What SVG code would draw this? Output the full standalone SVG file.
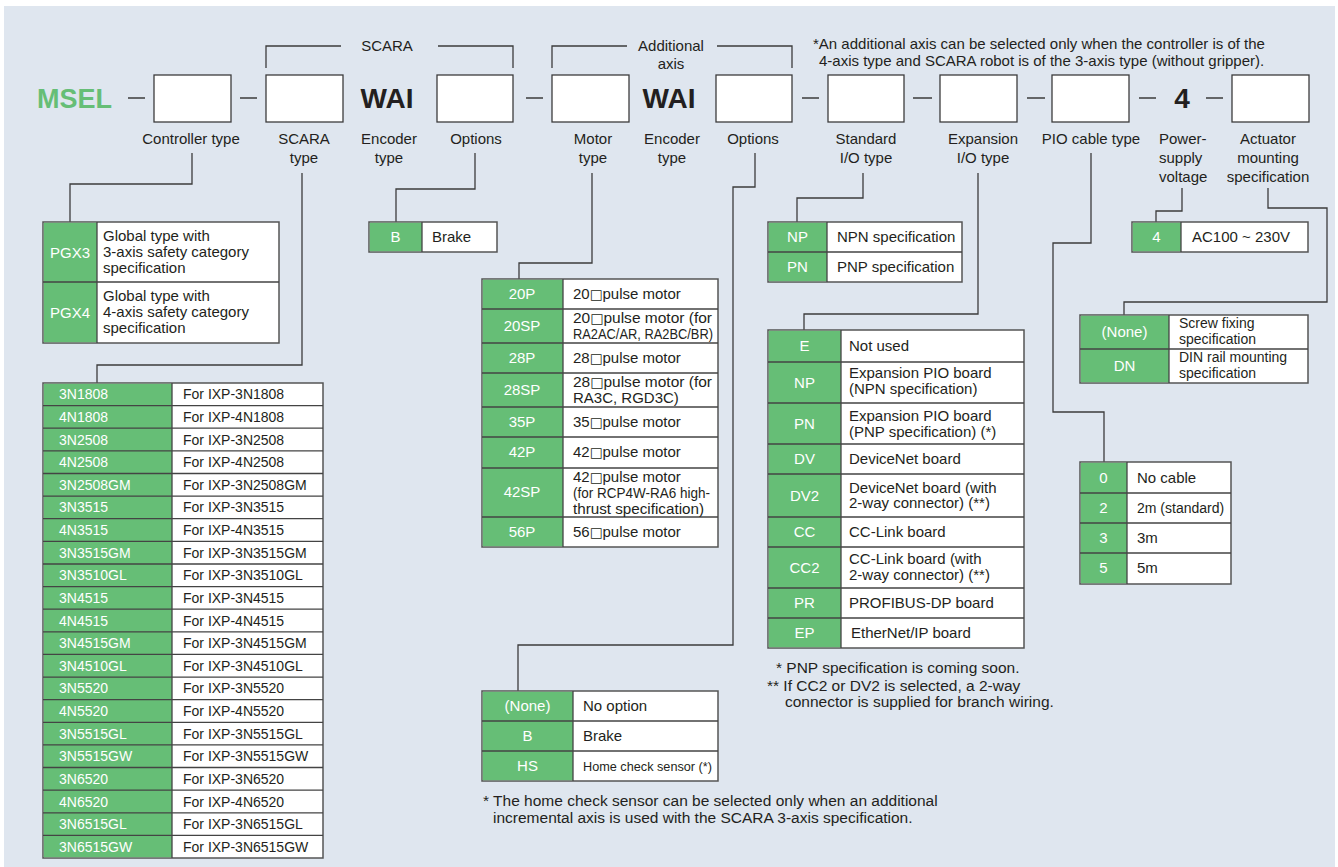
<svg xmlns="http://www.w3.org/2000/svg" width="1338" height="867" viewBox="0 0 1338 867">
<style>
text{font-family:"Liberation Sans",Arial,sans-serif;fill:#231f20}
.lbl{font-size:15px;text-anchor:middle}
.big{font-size:28px;font-weight:bold;text-anchor:middle}
.t{font-size:15px}
.s{font-size:14px}
.fn{font-size:15.5px}
.w{fill:#ffffff;font-size:15px;text-anchor:middle}
.ws{fill:#ffffff;font-size:14px}
.sq{font-family:"DejaVu Sans",sans-serif;font-size:13.5px}
.box{fill:#ffffff;stroke:#3c3c3c;stroke-width:1.3}
.tb{fill:#ffffff;stroke:#555555;stroke-width:1.5}
.g{fill:#66be76}
.rl{stroke:#444444;stroke-width:1.3;fill:none}
.cn{stroke:#3c3c3c;stroke-width:1.3;fill:none}
</style>
<rect x="4" y="6" width="1331" height="861" fill="#dfe6ef"/>

<g id="header">
<text x="37" y="108" style="font-size:27px;font-weight:bold;fill:#66be76;font-family:'Liberation Sans',Arial,sans-serif">MSEL</text>
<rect class="box" x="154" y="75" width="77" height="47"/>
<rect class="box" x="266" y="75" width="77" height="47"/>
<text class="big" x="387" y="108">WAI</text>
<rect class="box" x="437" y="75" width="76" height="47"/>
<rect class="box" x="552" y="75" width="77" height="47"/>
<text class="big" x="669" y="108">WAI</text>
<rect class="box" x="716" y="75" width="76" height="47"/>
<rect class="box" x="828" y="75" width="76" height="47"/>
<rect class="box" x="940" y="75" width="77" height="47"/>
<rect class="box" x="1052" y="75" width="77" height="47"/>
<text class="big" x="1182" y="108">4</text>
<rect class="box" x="1232" y="75" width="77" height="47"/>
<g class="cn">
<path d="M128,98H145M240,98H257M526,98H543M802,98H819M913,98H932M1027,98H1045M1139,98H1156M1206,98H1223"/>
</g>
<text class="lbl" x="387" y="51">SCARA</text>
<text class="lbl" x="671" y="51">Additional</text>
<text class="lbl" x="671" y="69">axis</text>
<text class="t" x="813" y="49">*An additional axis can be selected only when the controller is of the</text>
<text class="t" x="819" y="66">4-axis type and SCARA robot is of the 3-axis type (without gripper).</text>
<text class="lbl" x="191" y="144">Controller type</text>
<text class="lbl" x="304" y="144">SCARA</text><text class="lbl" x="304" y="163">type</text>
<text class="lbl" x="389" y="144">Encoder</text><text class="lbl" x="389" y="163">type</text>
<text class="lbl" x="476" y="144">Options</text>
<text class="lbl" x="593" y="144">Motor</text><text class="lbl" x="593" y="163">type</text>
<text class="lbl" x="672" y="144">Encoder</text><text class="lbl" x="672" y="163">type</text>
<text class="lbl" x="753" y="144">Options</text>
<text class="lbl" x="866" y="144">Standard</text><text class="lbl" x="866" y="163">I/O type</text>
<text class="lbl" x="983" y="144">Expansion</text><text class="lbl" x="983" y="163">I/O type</text>
<text class="lbl" x="1091" y="144">PIO cable type</text>
<text class="t" x="1159" y="144">Power-</text><text class="t" x="1159" y="163">supply</text><text class="t" x="1159" y="182">voltage</text>
<text class="lbl" x="1268" y="144">Actuator</text><text class="lbl" x="1268" y="163">mounting</text><text class="lbl" x="1268" y="182">specification</text>
</g>

<g id="connectors" class="cn">
<path d="M266,68V46H341M438,46H513V68"/>
<path d="M552,68V46H627M717,46H792V68"/>
<path d="M192,153V184H70V222"/>
<path d="M302,173V365H97V383"/>
<path d="M475,153V189H396V222"/>
<path d="M592,173V263H519V279"/>
<path d="M755,153V187H733V645H518V691"/>
<path d="M863,173V198H797V222"/>
<path d="M978,173V314H804V330"/>
<path d="M1091,153V243H1053V412H1104V462"/>
<path d="M1182,188V211H1156V222"/>
<path d="M1268,188V208H1327V302H1124V315"/>
</g>

<g id="controller-table">
<rect class="tb" x="43" y="222" width="236" height="121"/>
<rect class="g" x="43.8" y="222.8" width="53.2" height="119.4"/>
<path class="rl" d="M97,222V343M43,282H279"/>
<text class="w" x="70" y="258">PGX3</text>
<text class="w" x="70" y="318">PGX4</text>
<text class="t" x="103" y="241">Global type with</text>
<text class="t" x="103" y="257">3-axis safety category</text>
<text class="t" x="103" y="273">specification</text>
<text class="t" x="103" y="301">Global type with</text>
<text class="t" x="103" y="317">4-axis safety category</text>
<text class="t" x="103" y="333">specification</text>
</g>

<g id="brake-table">
<rect class="tb" x="369" y="222" width="128" height="30"/>
<rect class="g" x="369.8" y="222.8" width="52.2" height="28.4"/>
<path class="rl" d="M422,222V252"/>
<text class="w" x="395.5" y="242">B</text>
<text class="t" x="432" y="242">Brake</text>
</g>

<g id="motor-table">
<rect class="tb" x="482" y="279" width="236" height="268"/>
<rect class="g" x="482.8" y="279.8" width="80.2" height="266.4"/>
<path class="rl" d="M563,279V547M482,309H718M482,343H718M482,373H718M482,407H718M482,437H718M482,468H718M482,517H718"/>
<text class="w" x="522" y="299">20P</text>
<text class="w" x="522" y="331">20SP</text>
<text class="w" x="522" y="363">28P</text>
<text class="w" x="522" y="395">28SP</text>
<text class="w" x="522" y="427">35P</text>
<text class="w" x="522" y="457">42P</text>
<text class="w" x="522" y="497">42SP</text>
<text class="w" x="522" y="537">56P</text>
<text class="t" x="573" y="299">20<tspan class="sq">□</tspan>pulse motor</text>
<text class="t" x="573" y="323" textLength="139" lengthAdjust="spacingAndGlyphs">20<tspan class="sq">□</tspan>pulse motor (for</text>
<text class="t" x="573" y="339" textLength="140" lengthAdjust="spacingAndGlyphs">RA2AC/AR, RA2BC/BR)</text>
<text class="t" x="573" y="363">28<tspan class="sq">□</tspan>pulse motor</text>
<text class="t" x="573" y="387" textLength="139" lengthAdjust="spacingAndGlyphs">28<tspan class="sq">□</tspan>pulse motor (for</text>
<text class="t" x="573" y="403">RA3C, RGD3C)</text>
<text class="t" x="573" y="427">35<tspan class="sq">□</tspan>pulse motor</text>
<text class="t" x="573" y="457">42<tspan class="sq">□</tspan>pulse motor</text>
<text class="t" x="573" y="482">42<tspan class="sq">□</tspan>pulse motor</text>
<text class="t" x="573" y="498" textLength="137" lengthAdjust="spacingAndGlyphs">(for RCP4W-RA6 high-</text>
<text class="t" x="573" y="514" textLength="131" lengthAdjust="spacingAndGlyphs">thrust specification)</text>
<text class="t" x="573" y="537">56<tspan class="sq">□</tspan>pulse motor</text>
</g>

<g id="std-io-table">
<rect class="tb" x="768" y="222" width="194" height="60"/>
<rect class="g" x="768.8" y="222.8" width="58.2" height="58.4"/>
<path class="rl" d="M827,222V282M768,252H962"/>
<text class="w" x="797.5" y="242">NP</text>
<text class="w" x="797.5" y="272">PN</text>
<text class="t" x="837" y="242">NPN specification</text>
<text class="t" x="837" y="272">PNP specification</text>
</g>

<g id="exp-io-table">
<rect class="tb" x="768" y="330" width="256" height="318"/>
<rect class="g" x="768.8" y="330.8" width="72.2" height="316.4"/>
<path class="rl" d="M841,330V648M768,362H1024M768,403H1024M768,444H1024M768,474H1024M768,517H1024M768,547H1024M768,588H1024M768,618H1024"/>
<text class="w" x="804.5" y="351">E</text>
<text class="w" x="804.5" y="388">NP</text>
<text class="w" x="804.5" y="429">PN</text>
<text class="w" x="804.5" y="464">DV</text>
<text class="w" x="804.5" y="501">DV2</text>
<text class="w" x="804.5" y="537">CC</text>
<text class="w" x="804.5" y="573">CC2</text>
<text class="w" x="804.5" y="608">PR</text>
<text class="w" x="804.5" y="638">EP</text>
<text class="t" x="849" y="351">Not used</text>
<text class="t" x="849" y="378">Expansion PIO board</text>
<text class="t" x="849" y="394">(NPN specification)</text>
<text class="t" x="849" y="421">Expansion PIO board</text>
<text class="t" x="849" y="437">(PNP specification) (*)</text>
<text class="t" x="849" y="464">DeviceNet board</text>
<text class="t" x="849" y="493">DeviceNet board (with</text>
<text class="t" x="849" y="508">2-way connector) (**)</text>
<text class="t" x="849" y="537">CC-Link board</text>
<text class="t" x="849" y="564">CC-Link board (with</text>
<text class="t" x="849" y="580">2-way connector) (**)</text>
<text class="t" x="849" y="608">PROFIBUS-DP board</text>
<text class="t" x="851" y="638">EtherNet/IP board</text>
<text class="fn" x="776" y="673">* PNP specification is coming soon.</text>
<text class="fn" x="767" y="691">** If CC2 or DV2 is selected, a 2-way</text>
<text class="fn" x="785" y="707">connector is supplied for branch wiring.</text>
</g>

<g id="pio-table">
<rect class="tb" x="1080" y="462" width="151" height="122"/>
<rect class="g" x="1080.8" y="462.8" width="46.2" height="120.4"/>
<path class="rl" d="M1127,462V584M1080,493H1231M1080,523H1231M1080,553H1231"/>
<text class="w" x="1103.5" y="483">0</text>
<text class="w" x="1103.5" y="513">2</text>
<text class="w" x="1103.5" y="543">3</text>
<text class="w" x="1103.5" y="573">5</text>
<text class="t" x="1137" y="483">No cable</text>
<text class="s" x="1137" y="513">2m (standard)</text>
<text class="t" x="1137" y="543">3m</text>
<text class="t" x="1137" y="573">5m</text>
</g>

<g id="power-table">
<rect class="tb" x="1132" y="222" width="176" height="30"/>
<rect class="g" x="1132.8" y="222.8" width="48.2" height="28.4"/>
<path class="rl" d="M1181,222V252"/>
<text class="w" x="1156.5" y="242">4</text>
<text class="t" x="1192" y="242">AC100 ~ 230V</text>
</g>

<g id="mount-table">
<rect class="tb" x="1080" y="315" width="228" height="68"/>
<rect class="g" x="1080.8" y="315.8" width="88.2" height="66.4"/>
<path class="rl" d="M1169,315V383M1080,349H1308"/>
<text class="w" x="1124.5" y="337">(None)</text>
<text class="w" x="1124.5" y="371">DN</text>
<text class="s" x="1179" y="328">Screw fixing</text>
<text class="s" x="1179" y="344">specification</text>
<text class="s" x="1179" y="362">DIN rail mounting</text>
<text class="s" x="1179" y="378">specification</text>
</g>

<g id="option2-table">
<rect class="tb" x="482" y="691" width="236" height="90"/>
<rect class="g" x="482.8" y="691.8" width="90.2" height="88.4"/>
<path class="rl" d="M573,691V781M482,721H718M482,751H718"/>
<text class="w" x="527.5" y="711">(None)</text>
<text class="w" x="527.5" y="741">B</text>
<text class="w" x="527.5" y="771">HS</text>
<text class="t" x="583" y="711">No option</text>
<text class="t" x="583" y="741">Brake</text>
<text class="t" x="583" y="771" textLength="129" lengthAdjust="spacingAndGlyphs" style="font-size:13.5px">Home check sensor (*)</text>
<text class="fn" x="483" y="806">* The home check sensor can be selected only when an additional</text>
<text class="fn" x="493" y="823">incremental axis is used with the SCARA 3-axis specification.</text>
</g>

<g id="scara-table">
<rect class="tb" x="43" y="383" width="280" height="475"/>
<rect class="g" x="43.8" y="383.8" width="128.2" height="473.4"/>
<path class="rl" d="M172,383V858M43,405.6H323M43,428.2H323M43,450.9H323M43,473.5H323M43,496.1H323M43,518.7H323M43,541.3H323M43,564H323M43,586.6H323M43,609.2H323M43,631.8H323M43,654.4H323M43,677.1H323M43,699.7H323M43,722.3H323M43,744.9H323M43,767.5H323M43,790.2H323M43,812.8H323M43,835.4H323"/>
<g class="ws">
<text class="ws" x="59" y="399.3">3N1808</text>
<text class="ws" x="59" y="421.9">4N1808</text>
<text class="ws" x="59" y="444.5">3N2508</text>
<text class="ws" x="59" y="467.2">4N2508</text>
<text class="ws" x="59" y="489.8">3N2508GM</text>
<text class="ws" x="59" y="512.4">3N3515</text>
<text class="ws" x="59" y="535">4N3515</text>
<text class="ws" x="59" y="557.6">3N3515GM</text>
<text class="ws" x="59" y="580.3">3N3510GL</text>
<text class="ws" x="59" y="602.9">3N4515</text>
<text class="ws" x="59" y="625.5">4N4515</text>
<text class="ws" x="59" y="648.1">3N4515GM</text>
<text class="ws" x="59" y="670.8">3N4510GL</text>
<text class="ws" x="59" y="693.4">3N5520</text>
<text class="ws" x="59" y="716">4N5520</text>
<text class="ws" x="59" y="738.6">3N5515GL</text>
<text class="ws" x="59" y="761.2">3N5515GW</text>
<text class="ws" x="59" y="783.9">3N6520</text>
<text class="ws" x="59" y="806.5">4N6520</text>
<text class="ws" x="59" y="829.1">3N6515GL</text>
<text class="ws" x="59" y="851.7">3N6515GW</text>
</g>
<text class="s" x="183" y="399.3">For IXP-3N1808</text>
<text class="s" x="183" y="421.9">For IXP-4N1808</text>
<text class="s" x="183" y="444.5">For IXP-3N2508</text>
<text class="s" x="183" y="467.2">For IXP-4N2508</text>
<text class="s" x="183" y="489.8">For IXP-3N2508GM</text>
<text class="s" x="183" y="512.4">For IXP-3N3515</text>
<text class="s" x="183" y="535">For IXP-4N3515</text>
<text class="s" x="183" y="557.6">For IXP-3N3515GM</text>
<text class="s" x="183" y="580.3">For IXP-3N3510GL</text>
<text class="s" x="183" y="602.9">For IXP-3N4515</text>
<text class="s" x="183" y="625.5">For IXP-4N4515</text>
<text class="s" x="183" y="648.1">For IXP-3N4515GM</text>
<text class="s" x="183" y="670.8">For IXP-3N4510GL</text>
<text class="s" x="183" y="693.4">For IXP-3N5520</text>
<text class="s" x="183" y="716">For IXP-4N5520</text>
<text class="s" x="183" y="738.6">For IXP-3N5515GL</text>
<text class="s" x="183" y="761.2">For IXP-3N5515GW</text>
<text class="s" x="183" y="783.9">For IXP-3N6520</text>
<text class="s" x="183" y="806.5">For IXP-4N6520</text>
<text class="s" x="183" y="829.1">For IXP-3N6515GL</text>
<text class="s" x="183" y="851.7">For IXP-3N6515GW</text>
</g>
</svg>
